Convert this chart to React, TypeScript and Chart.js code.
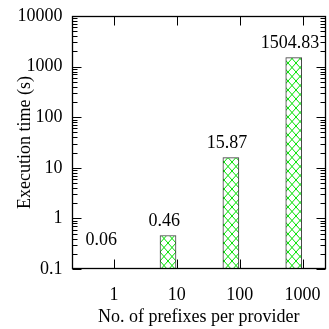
import React, { useEffect, useRef } from "react";
import { Chart, registerables } from "chart.js";

Chart.register(...registerables);

const categories = ["1", "10", "100", "1000"];
const times = [0.06, 0.46, 15.87, 1504.83];
const valueLabels = ["0.06", "0.46", "15.87", "1504.83"];
const yTickValues = [0.1, 1, 10, 100, 1000, 10000];
const yTickLabels = ["0.1", "1", "10", "100", "1000", "10000"];

const FONT = "'Liberation Serif', 'Times New Roman', serif";
const FS = 18;

function makePattern(): CanvasPattern | string {
  const c = document.createElement("canvas");
  c.width = 8;
  c.height = 9;
  const g = c.getContext("2d");
  if (!g) return "#00ff00";
  g.fillStyle = "#ffffff";
  g.fillRect(0, 0, 8, 9);
  g.strokeStyle = "#00e000";
  g.lineWidth = 1;
  g.beginPath();
  g.moveTo(0, 0);
  g.lineTo(8, 9);
  g.moveTo(8, 0);
  g.lineTo(0, 9);
  g.stroke();
  const p = g.createPattern(c, "repeat");
  return p || "#00ff00";
}

const framePlugin = {
  id: "gnuplotFrame",
  afterDatasetsDraw(chart: any) {
    const { ctx, chartArea } = chart;
    const xs = chart.scales.x;
    const ys = chart.scales.y;
    const L = Math.round(chartArea.left) + 0.5;
    const R = Math.round(chartArea.right) - 0.5;
    const T = Math.round(chartArea.top) + 0.5;
    const B = Math.round(chartArea.bottom) - 0.5;
    ctx.save();
    ctx.strokeStyle = "#000";
    ctx.lineWidth = 1;
    ctx.beginPath();
    for (let d = 0; d < yTickValues.length; d++) {
      const base = yTickValues[d];
      const py = Math.round(ys.getPixelForValue(base)) + 0.5;
      ctx.moveTo(L, py);
      ctx.lineTo(L + 9, py);
      ctx.moveTo(R, py);
      ctx.lineTo(R - 9, py);
      if (d < yTickValues.length - 1) {
        for (let m = 2; m <= 9; m++) {
          const my = Math.round(ys.getPixelForValue(base * m)) + 0.5;
          ctx.moveTo(L, my);
          ctx.lineTo(L + 5, my);
          ctx.moveTo(R, my);
          ctx.lineTo(R - 5, my);
        }
      }
    }
    for (let i = 0; i < categories.length; i++) {
      const px = Math.round(xs.getPixelForValue(i)) + 0.5;
      ctx.moveTo(px, B);
      ctx.lineTo(px, B - 9);
      ctx.moveTo(px, T);
      ctx.lineTo(px, T + 9);
    }
    ctx.stroke();
    ctx.lineWidth = 1.3;
    ctx.strokeRect(L, T, R - L, B - T);
    ctx.fillStyle = "#000";
    ctx.font = `${FS}px ${FONT}`;
    ctx.textAlign = "center";
    ctx.textBaseline = "middle";
    for (let i = 0; i < times.length; i++) {
      const px = xs.getPixelForValue(i - 0.2);
      const py = ys.getPixelForValue(Math.max(times[i], 0.2)) - 14;
      ctx.fillText(valueLabels[i], px, py);
    }
    ctx.restore();
  },
};

export default function App() {
  const ref = useRef<HTMLCanvasElement | null>(null);
  useEffect(() => {
    document.body.style.margin = "0";
    if (!ref.current) return;
    const chart = new Chart(ref.current, {
      type: "bar",
      data: {
        datasets: [
          {
            data: times.map((t, i) => ({ x: i - 0.14, y: t })),
            backgroundColor: makePattern() as any,
            borderColor: "#3c3c3c",
            borderWidth: 1,
            barThickness: 16,
          },
        ],
      },
      options: {
        animation: false,
        responsive: false,
        events: [],
        layout: { padding: { top: 16, right: 3.5, left: 0, bottom: 0 } },
        plugins: { legend: { display: false }, tooltip: { enabled: false } },
        scales: {
          x: {
            type: "linear",
            offset: false,
            min: -0.667,
            max: 3.365,
            grid: { display: false, drawTicks: false, offset: false },
            border: { display: false },
            afterBuildTicks: (s: any) => {
              s.ticks = categories.map((_, i) => ({ value: i }));
            },
            afterFit: (s: any) => {
              s.height = 60;
              s.paddingLeft = 0;
              s.paddingRight = 0;
            },
            ticks: {
              autoSkip: false,
              maxRotation: 0,
              padding: 15,
              color: "#000",
              font: { family: FONT, size: FS },
              callback: (v: any) => categories[Math.round(Number(v))] ?? "",
            },
            title: {
              display: true,
              text: "No. of prefixes per provider",
              color: "#000",
              font: { family: FONT, size: FS },
              padding: { top: 0, bottom: 1 },
            },
          },
          y: {
            type: "logarithmic",
            min: 0.1,
            max: 10000,
            grid: { display: false, drawTicks: false },
            border: { display: false },
            afterBuildTicks: (s: any) => {
              s.ticks = yTickValues.map((v) => ({ value: v }));
            },
            afterFit: (s: any) => {
              s.width = 72;
              s.paddingTop = 0;
              s.paddingBottom = 0;
            },
            ticks: {
              autoSkip: false,
              padding: 9.5,
              color: "#000",
              font: { family: FONT, size: FS },
              callback: (v: any) => {
                const idx = yTickValues.findIndex((t) => Math.abs(t - Number(v)) < t * 1e-6);
                return idx >= 0 ? yTickLabels[idx] : "";
              },
            },
            title: {
              display: true,
              text: "Execution time (s)",
              color: "#000",
              font: { family: FONT, size: FS },
              padding: { top: 14, bottom: 0 },
            },
          },
        },
      },
      plugins: [framePlugin],
    });
    return () => chart.destroy();
  }, []);
  return (
    <div style={{ width: 329, height: 329 }}>
      <canvas ref={ref} width={329} height={329} style={{ width: 329, height: 329, display: "block" }} />
    </div>
  );
}
